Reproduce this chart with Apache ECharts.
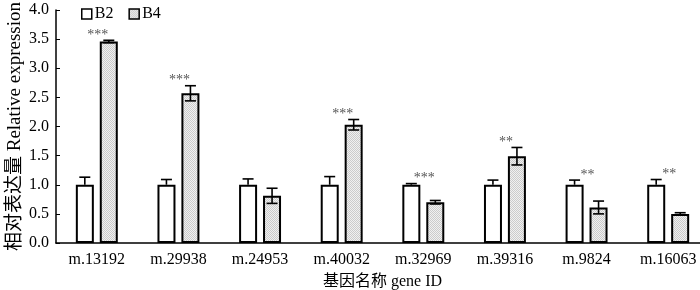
<!DOCTYPE html>
<html>
<head>
<meta charset="utf-8">
<script src="https://cdn.jsdelivr.net/npm/echarts@6/dist/echarts.min.js"></script>
<style>html,body{margin:0;padding:0;background:#fff;}#chart{width:700px;height:290px;}</style>
</head>
<body>
<div id="chart"></div>
<script>
const categories = ['m.13192','m.29938','m.24953','m.40032','m.32969','m.39316','m.9824','m.16063'];
const b2Values = [1.00, 1.00, 1.00, 1.00, 1.00, 1.00, 1.00, 1.00];
const b2Errors = [0.13, 0.09, 0.10, 0.14, 0.02, 0.08, 0.08, 0.09];
const b4Values = [3.46, 2.57, 0.81, 2.03, 0.70, 1.49, 0.61, 0.50];
const b4Errors = [0.02, 0.13, 0.13, 0.09, 0.03, 0.15, 0.11, 0.02];
const significance = ['***','***','','***','***','**','**','**'];
const yTicks = [0, 0.5, 1.0, 1.5, 2.0, 2.5, 3.0, 3.5, 4.0];

const FONT = "'Liberation Serif', 'Times New Roman', 'Noto Sans CJK SC', serif";

// hatched pattern for B4
const pc = document.createElement('canvas');
pc.width = 2; pc.height = 2;
const pctx = pc.getContext('2d');
pctx.fillStyle = '#f0f0f0'; pctx.fillRect(0,0,2,2);
pctx.fillStyle = '#cbcbcb'; pctx.fillRect(0,0,1,1); pctx.fillRect(1,1,1,1);
const hatch = {image: pc, repeat: 'repeat'};

const OFFSET = 12;
function errRender(values, errors, dx, both) {
  return function(params, api) {
    const i = api.value(0);
    const v = values[i], e = errors[i];
    const top = api.coord([i, v + e]);
    const mid = api.coord([i, v]);
    const bot = api.coord([i, v - e]);
    const x = top[0] + dx;
    const children = [];
    const style = {stroke: '#000', lineWidth: 1.6};
    const y2 = both ? bot[1] : mid[1];
    children.push({type:'line', shape:{x1:x, y1:top[1], x2:x, y2:y2}, style});
    children.push({type:'line', shape:{x1:x-5.5, y1:top[1], x2:x+5.5, y2:top[1]}, style});
    if (both) children.push({type:'line', shape:{x1:x-5.5, y1:bot[1], x2:x+5.5, y2:bot[1]}, style});
    return {type:'group', children};
  };
}

const idx = categories.map((c,i)=>[i]);

const chart = echarts.init(document.getElementById('chart'));
chart.setOption({
  animation: false,
  textStyle: {fontFamily: FONT},
  grid: {left: 56, top: 10, height: 233, width: 653, containLabel: false, outerBoundsMode: 'none'},
  legend: {
    data: ['B2','B4'], left: 76, top: 1, itemWidth: 10, itemHeight: 10, itemGap: 15, icon: 'rect',
    itemStyle: {borderColor: '#000', borderWidth: 1.5},
    textStyle: {fontFamily: FONT, fontSize: 16, color: '#000', padding: [0,0,0,-2]},
  },
  xAxis: {
    type: 'category', data: categories,
    axisLine: {lineStyle: {color: '#000', width: 1.5}},
    axisTick: {show: false},
    axisLabel: {color: '#000', fontSize: 16, fontFamily: FONT, margin: 9},
    name: '基因名称 gene ID', nameLocation: 'middle', nameGap: 31, nameMoveOverlap: false,
    nameTextStyle: {color: '#000', fontSize: 16, fontFamily: FONT}
  },
  yAxis: {
    type: 'value', min: 0, max: 4, interval: 0.5,
    axisLine: {show: true, lineStyle: {color: '#000', width: 1.5}},
    axisTick: {show: true, inside: true, length: 4, lineStyle: {color: '#000'}},
    splitLine: {show: false},
    axisLabel: {color: '#000', fontSize: 16, fontFamily: FONT, margin: 7,
      formatter: v => yTicks.includes(v) ? v.toFixed(1) : ''},
    name: '相对表达量 Relative expression', nameLocation: 'middle', nameGap: 31, nameMoveOverlap: false,
    nameTextStyle: {color: '#000', fontSize: 19, fontFamily: FONT}
  },
  series: [
    {name: 'B2', type: 'bar', data: b2Values, barWidth: 18, barGap: '33%',
      itemStyle: {color: '#fff', borderColor: '#000', borderWidth: 2}},
    {name: 'B4', type: 'bar', data: b4Values, barWidth: 18,
      itemStyle: {color: hatch, borderColor: '#000', borderWidth: 2}},
    {type: 'custom', data: idx, renderItem: errRender(b2Values, b2Errors, -OFFSET, false), z: 5, silent: true},
    {type: 'custom', data: idx, renderItem: errRender(b4Values, b4Errors, OFFSET, true), z: 5, silent: true},
    {type: 'custom', data: idx, z: 6, silent: true,
      renderItem: function(params, api) {
        const i = api.value(0);
        const s = significance[i];
        if (!s) return null;
        const top = Math.max(b2Values[i] + b2Errors[i], b4Values[i] + b4Errors[i]);
        const p = api.coord([i, top]);
        return {type: 'text', style: {text: s, x: p[0] + 1, y: p[1] + 2, align: 'center', verticalAlign: 'bottom',
          fill: '#555', font: '14px ' + FONT}};
      }}
  ]
});
</script>
</body>
</html>
